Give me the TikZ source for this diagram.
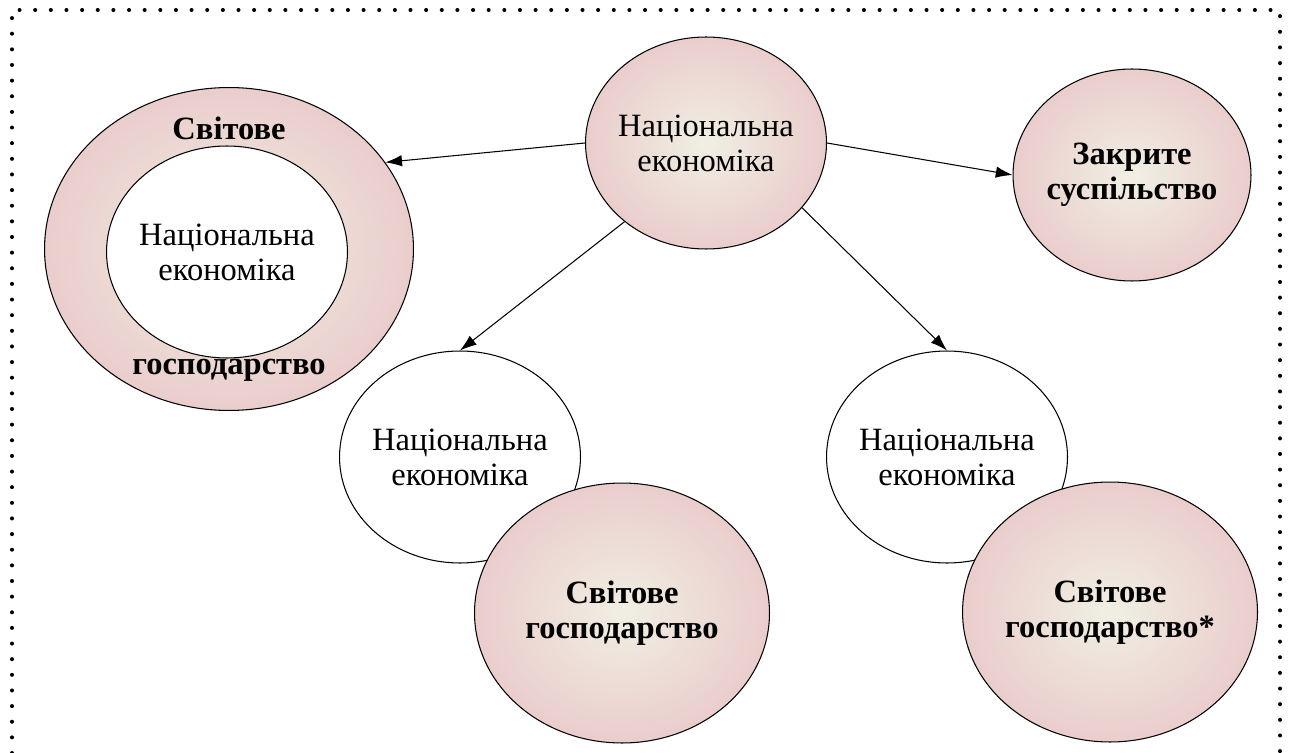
\documentclass[tikz,border=0pt]{standalone}
\usepackage{fontspec}
\setmainfont{Liberation Serif}
\usetikzlibrary{shapes.geometric, arrows.meta}
\definecolor{ballcore}{RGB}{240,239,227}
\definecolor{ballrim}{RGB}{234,205,204}

\begin{document}
\begin{tikzpicture}[x=0.02cm, y=-0.02cm,
	pinkball/.style={ellipse, draw, line width=0.6pt, inner sep=0pt, inner color=ballcore, outer color=ballrim},
	whiteball/.style={ellipse, draw, line width=0.6pt, inner sep=0pt, fill=white},
	small/.style={minimum width=4.82cm, minimum height=4.24cm},
	big/.style={minimum width=5.9cm, minimum height=5.2cm},
	plain/.style={align=center, font=\fontsize{18.5}{20}\selectfont},
	heavy/.style={align=center, font=\fontsize{18.5}{20}\selectfont\bfseries},
	link/.style={-{Latex[length=9.5pt, width=6.5pt]}, line width=0.6pt}]
	\useasboundingbox (0,0) rectangle (1290,753);
	
	%frame
	\draw[line width=2.3pt, line cap=round, dash pattern=on 0pt off 8.9pt] (12,753) -- (12,10) -- (1280,10) -- (1280,753);
	
	%world economy ring
	\node[pinkball, minimum width=7.38cm, minimum height=6.46cm] (world) at (229,249) {};
	\node[whiteball, small] (core) at (227,252) {};
	\node[heavy] (worldtop) at (229,128) {Світове};
	\node[heavy] (worldbot) at (229,370) {господарство};
	\node[plain] (coretext) at (core) {Національна\\економіка};
	
	%top
	\node[pinkball, small] (nat) at (706,143) {};
	\node[plain] (nattext) at (nat) {Національна\\економіка};
	\node[pinkball, minimum width=4.76cm, minimum height=4.24cm] (closed) at (1132,175) {};
	\node[heavy] (closedtext) at (closed) {Закрите\\суспільство};
	
	%bottom left
	\node[whiteball, small] (natL) at (460,457) {};
	\node[plain] (natLtext) at (natL) {Національна\\економіка};
	\node[pinkball, big] (worldL) at (622,613) {};
	\node[heavy] (worldLtext) at (worldL) {Світове\\господарство};
	
	%bottom right
	\node[whiteball, small] (natR) at (947,457) {};
	\node[plain] (natRtext) at (natR) {Національна\\економіка};
	\node[pinkball, big] (worldR) at (1110,612) {};
	\node[heavy] (worldRtext) at (worldR) {Світове\\господарство*};
	
	\draw[link] (nat.west) -- (world.29);
	\draw[link] (nat.east) -- (closed.west);
	\draw[link] (nat.224) -- (natL.north);
	\draw[link] (nat.326) -- (natR.north);
\end{tikzpicture}
\end{document}
